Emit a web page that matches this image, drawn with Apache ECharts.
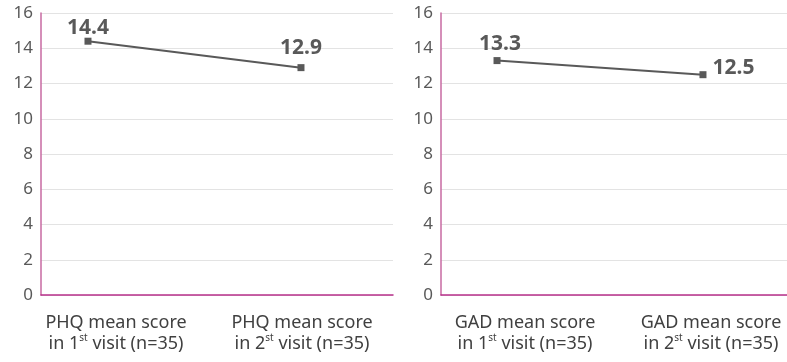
<!DOCTYPE html>
<html>
<head>
<meta charset="utf-8">
<script src="https://cdn.jsdelivr.net/npm/echarts@6/dist/echarts.min.js"></script>
<style>
html,body{margin:0;padding:0;background:#fff;}
#chart{width:787px;height:362px;}
</style>
</head>
<body>
<div id="chart"></div>
<script>
// Mean scores at the first and second visit
const phqCategories = ['PHQ mean score\nin 1{sup|st} visit (n=35)', 'PHQ mean score\nin 2{sup|st} visit (n=35)'];
const gadCategories = ['GAD mean score\nin 1{sup|st} visit (n=35)', 'GAD mean score\nin 2{sup|st} visit (n=35)'];
const phqValues = [14.4, 12.9];
const gadValues = [13.3, 12.5];
const yTicks = { min: 0, max: 16, interval: 2 };

const FONT = '"Noto Sans", "Open Sans", sans-serif';
const LINE = '#595959';

const chart = echarts.init(document.getElementById('chart'), null, { renderer: 'canvas' });

function pairs(vals) { return vals.map((v, i) => [i, v]); }

const mainX = (grid, min, max) => ({
  type: 'value', gridIndex: grid, min: min, max: max,
  axisLine: { show: true, onZero: false, lineStyle: { color: '#b8318a', width: 1.5 } },
  axisTick: { show: false }, axisLabel: { show: false }, splitLine: { show: false }
});
// category label row; shiftRight nudges the labels by padding the text box
const labelX = (grid, cats, shiftRight) => ({
  type: 'category', gridIndex: grid, data: cats, boundaryGap: true,
  axisLine: { show: false }, axisTick: { show: false }, splitLine: { show: false },
  axisLabel: {
    margin: 17, color: '#404040', fontFamily: FONT, fontSize: 18, lineHeight: 21,
    interval: 0, padding: [0, 0, 0, shiftRight * 2],
    rich: { sup: { fontSize: 10, verticalAlign: 'top', lineHeight: 14, color: '#404040', fontFamily: FONT } }
  }
});
const mainY = (grid) => ({
  type: 'value', gridIndex: grid, min: yTicks.min, max: yTicks.max, interval: yTicks.interval,
  axisLine: { show: true, onZero: false, lineStyle: { color: '#c76aa2', width: 1.5 } },
  axisTick: { show: false },
  axisLabel: { color: '#595959', fontFamily: FONT, fontSize: 17, margin: 8 },
  splitLine: { lineStyle: { color: '#e3e3e3', width: 1 } }
});
const hiddenY = (grid) => ({ type: 'value', gridIndex: grid, min: 0, max: 16, show: false });

const labelStyle = { show: true, color: LINE, fontFamily: FONT, fontSize: 21, fontWeight: 'bold',
  formatter: p => p.value[1].toFixed(1) };

chart.setOption({
  animation: false,
  grid: [
    { left: 41, top: 13, width: 352, height: 282 },
    { left: 441, top: 13, width: 346, height: 282 },
    { left: 23, top: 13, width: 372, height: 282 },
    { left: 415, right: 0, top: 13, height: 282 }
  ],
  xAxis: [
    mainX(0, -0.2206, 1.432),
    mainX(1, -0.272, 1.408),
    labelX(2, phqCategories, 0),
    labelX(3, gadCategories, 17)
  ],
  yAxis: [mainY(0), mainY(1), hiddenY(2), hiddenY(3)],
  series: [
    {
      type: 'line', xAxisIndex: 0, yAxisIndex: 0,
      data: pairs(phqValues).map((d, i) => ({
        value: d,
        label: i === 0 ? { position: 'top', distance: 2, offset: [0, 3] } : { position: 'top', distance: 3, offset: [0, -3] }
      })),
      symbol: 'rect', symbolSize: 7,
      lineStyle: { color: LINE, width: 2 }, itemStyle: { color: LINE },
      label: labelStyle
    },
    {
      type: 'line', xAxisIndex: 1, yAxisIndex: 1,
      data: pairs(gadValues).map((d, i) => ({
        value: d,
        label: i === 0 ? { position: 'top', distance: 3, offset: [3, 0] } : { position: 'right', distance: 6, offset: [0, -7] }
      })),
      symbol: 'rect', symbolSize: 7,
      lineStyle: { color: LINE, width: 2 }, itemStyle: { color: LINE },
      label: labelStyle
    }
  ]
});
</script>
</body>
</html>
